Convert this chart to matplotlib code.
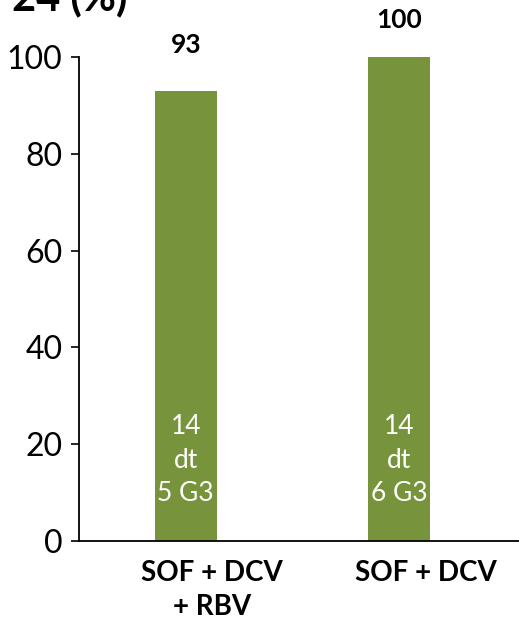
import matplotlib
matplotlib.use('Agg')
import matplotlib.pyplot as plt
import matplotlib.transforms as mtransforms

plt.rcParams['font.family'] = ['Lato', 'DejaVu Sans']

# Données
groupes = ['SOF + DCV\n+ RBV', 'SOF + DCV']
valeurs = [93, 100]
textes_barre = ['14\ndt\n5 G3', '14\ndt\n6 G3']
yticks = [0, 20, 40, 60, 80, 100]

vert = '#77933C'

fig = plt.figure(figsize=(5.19, 6.32), dpi=100)
ax = fig.add_axes([79 / 519, 91 / 632, 440 / 519, 484 / 632])

x = list(range(len(groupes)))
bars = ax.bar(x, valeurs, width=0.29, color=vert, zorder=2)

# valeurs au-dessus des barres
for xi, v in zip(x, valeurs):
    ax.annotate(str(v), (xi, v), xytext=(0, 33 - (v - 93) * 0.86),
                textcoords='offset points', ha='center', va='center',
                fontsize=19, fontweight='bold', annotation_clip=False)

# texte dans les barres
for xi, t in zip(x, textes_barre):
    ax.text(xi, 16.7, t, ha='center', va='center', color='white',
            fontsize=19, linespacing=1.42)

ax.set_xlim(-0.5, 1.56)
ax.set_ylim(0, 100)
ax.set_yticks(yticks)
ax.tick_params(axis='y', labelsize=23, length=6, width=1.2, direction='out', pad=6)
ax.set_xticks(x)
ax.set_xticklabels(groupes, fontsize=20, fontweight='bold', linespacing=1.35)
ax.tick_params(axis='x', length=0, pad=14)

# décalage des étiquettes de l'axe x vers la droite
decal = mtransforms.ScaledTranslation(26 / 100, 0, fig.dpi_scale_trans)
for lab in ax.get_xticklabels():
    lab.set_transform(lab.get_transform() + decal)

for s in ['top', 'right']:
    ax.spines[s].set_visible(False)
ax.spines['left'].set_linewidth(1.3)
ax.spines['bottom'].set_linewidth(1.3)

fig.text(12 / 519, 1 - 10 / 632, '24 (%)', fontsize=30, fontweight='bold',
         ha='left', va='baseline')

fig.savefig('out.png', dpi=100)
